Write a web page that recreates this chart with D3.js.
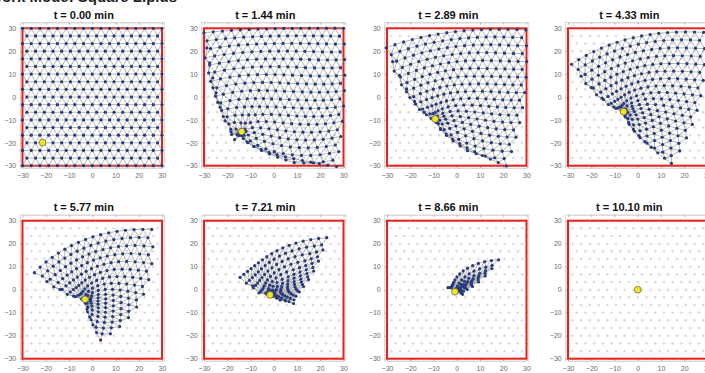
<!DOCTYPE html>
<html>
<head>
<meta charset="utf-8">
<script src="https://cdn.jsdelivr.net/npm/d3@7"></script>
<style>
  body { margin: 0; background: #fff; }
  svg { display: block; }
  text { font-family: "Liberation Sans", Arial, sans-serif; }
</style>
</head>
<body>
<svg id="chart" width="705" height="373"></svg>
<script>
// snapshot times (min)
const times = ['0.00', '1.44', '2.89', '4.33', '5.77', '7.21', '8.66', '10.10'];

// yellow hub position in each snapshot
const hubX = [-21.4, -13.8, -9.3, -6.1, -3.1, -1.6, -0.8, 0];
const hubY = [-19.9, -15.1, -9.6, -6.4, -4.2, -2.3, -0.9, 0];

// where the three far corners of the sheet ended up in each snapshot
const topLeftX = [-30, -30, -30.3, -28.5, -24.9, -14.5, -3.8, 0];
const topLeftY = [30, 28, 21.5, 14.3, 7.4, 5.4, 0.9, 0];
const topRightX = [30, 30, 29.7, 28.3, 25.6, 22.8, 18, 0];
const topRightY = [30, 30, 29.3, 28.2, 26.2, 22.6, 13, 0];
const bottomRightX = [30, 27, 21.3, 14.5, 3.6, 8.5, 2.5, 0];
const bottomRightY = [-30, -30.4, -30.1, -29, -21.9, -6, -2.0, 0];

// how much the sheet flares out (or pinches in) close to the hub
const bulge = [0, 0.4, 0.3, 0.2, 0.15, 0.3, -0.6, 0];

const axisTicks = [-30, -20, -10, 0, 10, 20, 30];

// triangular lattice of the sheet
const ROWS = 19, STEP = 3.75, HALF = 30;

const nodes = [];
const rowIndex = [];
for (let j = 0; j < ROWS; j++) {
  const y = HALF - j * (2 * HALF) / (ROWS - 1);
  const odd = j % 2 === 1;
  const n = odd ? 16 : 17;
  const ids = [];
  for (let i = 0; i < n; i++) {
    const x = (odd ? -HALF + STEP / 2 : -HALF) + i * STEP;
    ids.push(nodes.length);
    nodes.push({ x, y });
  }
  rowIndex.push(ids);
}
const links = [];
rowIndex.forEach((ids, j) => {
  for (let i = 0; i < ids.length - 1; i++) links.push([ids[i], ids[i + 1]]);
  if (j < ROWS - 1) {
    const next = rowIndex[j + 1];
    const odd = j % 2 === 1;
    ids.forEach((id, i) => {
      const a = odd ? i : i - 1, b = odd ? i + 1 : i;
      if (a >= 0 && a < next.length) links.push([id, next[a]]);
      if (b >= 0 && b < next.length) links.push([id, next[b]]);
    });
  }
});

const deg = Math.PI / 180;
const P0 = [hubX[0], hubY[0]];

// distance from the original hub to the box edge along a direction
function edgeDist(th) {
  const cx = Math.cos(th * deg), cy = Math.sin(th * deg);
  let best = Infinity;
  if (cx > 1e-9) best = Math.min(best, (HALF - P0[0]) / cx);
  if (cx < -1e-9) best = Math.min(best, (-HALF - P0[0]) / cx);
  if (cy > 1e-9) best = Math.min(best, (HALF - P0[1]) / cy);
  if (cy < -1e-9) best = Math.min(best, (-HALF - P0[1]) / cy);
  return best;
}

// fan map: polar coords about the original hub, squeezed toward the current hub
function makeMap(p) {
  const hx = hubX[p], hy = hubY[p];
  const pairs = [
    [30, -30, bottomRightX[p], bottomRightY[p]],
    [30, 30, topRightX[p], topRightY[p]],
    [-30, 30, topLeftX[p], topLeftY[p]]
  ];
  const k = pairs.map(([ox, oy, mx, my]) => {
    const th = Math.atan2(oy - P0[1], ox - P0[0]) / deg;
    const r = Math.hypot(ox - P0[0], oy - P0[1]);
    const R = Math.hypot(mx - hx, my - hy);
    const ph = Math.atan2(my - hy, mx - hx) / deg;
    return { th, r, ph, c: r - R };
  });
  const [br, tr, tl] = k;
  const sLow = (tr.ph - br.ph) / (tr.th - br.th);
  const sHigh = (tl.ph - tr.ph) / (tl.th - tr.th);
  const b = bulge[p];
  return function (pt) {
    const dx = pt.x - P0[0], dy = pt.y - P0[1];
    const r = Math.hypot(dx, dy);
    let th = Math.atan2(dy, dx) / deg;
    if (th < -135) th += 360;
    let ph = th <= tr.th ? tr.ph + (th - tr.th) * sLow : tr.ph + (th - tr.th) * sHigh;
    let c;
    if (th <= br.th) c = br.c;
    else if (th <= tr.th) c = br.c + (tr.c - br.c) * (th - br.th) / (tr.th - br.th);
    else if (th <= tl.th) c = tr.c + (tl.c - tr.c) * (th - tr.th) / (tl.th - tr.th);
    else c = tl.c;
    const rr = Math.max(0, r - c);
    const span = Math.max(1e-6, edgeDist(th) - c);
    const rho = Math.min(1, rr / span);
    ph = tr.ph + (ph - tr.ph) * (1 + b * (1 - rho));
    return [hx + rr * Math.cos(ph * deg), hy + rr * Math.sin(ph * deg)];
  };
}

const svg = d3.select('#chart');

svg.append('text')
  .attr('x', 177).attr('y', 2)
  .attr('text-anchor', 'end')
  .attr('font-size', 15).attr('font-weight', 'bold')
  .attr('fill', '#222')
  .text('Network Mode: Square Lipids');

const panelLeft = [22.5, 204, 387, 568];
const panelW = 139.5;
const rowTop = [28.3, 220.7];
const rowBottom = [165.7, 358.7];

times.forEach((t, p) => {
  const col = p % 4, row = Math.floor(p / 4);
  const x = d3.scaleLinear().domain([-30, 30]).range([panelLeft[col], panelLeft[col] + panelW]);
  const y = d3.scaleLinear().domain([-30, 30]).range([rowBottom[row], rowTop[row]]);
  const g = svg.append('g').attr('class', 'panel');
  const map = makeMap(p);
  const pos = nodes.map(map);

  // axes frame
  g.append('rect')
    .attr('x', x(-31)).attr('y', y(32.5))
    .attr('width', x(31) - x(-31)).attr('height', y(-31) - y(32.5))
    .attr('fill', '#fff').attr('stroke', '#c8c8c8').attr('stroke-width', 0.6);

  const xAxis = g.append('g')
    .attr('transform', `translate(0,${y(-31)})`)
    .call(d3.axisBottom(x).tickValues(axisTicks).tickSizeInner(-2).tickSizeOuter(0).tickPadding(5));
  const yAxis = g.append('g')
    .attr('transform', `translate(${x(-31)},0)`)
    .call(d3.axisLeft(y).tickValues(axisTicks).tickSizeInner(-2).tickSizeOuter(0).tickPadding(4));
  g.append('g')
    .attr('transform', `translate(0,${y(32.5)})`)
    .call(d3.axisTop(x).tickValues(axisTicks).tickSizeInner(-2).tickSizeOuter(0).tickFormat(''));
  [xAxis, yAxis].forEach(a => {
    a.selectAll('text').attr('fill', '#6a6a6a').attr('font-size', 7);
  });
  g.selectAll('.domain').attr('stroke', '#c8c8c8').attr('stroke-width', 0.6);
  g.selectAll('.tick line').attr('stroke', '#b0b0b0');

  // original lattice sites
  g.append('g').selectAll('circle')
    .data(nodes).enter().append('circle')
    .attr('cx', d => x(d.x)).attr('cy', d => y(d.y))
    .attr('r', 1.3).attr('fill', '#dcdcdc');

  // confining box
  g.append('rect')
    .attr('x', x(-30)).attr('y', y(30))
    .attr('width', x(30) - x(-30)).attr('height', y(-30) - y(30))
    .attr('fill', 'none').attr('stroke', '#e8211c').attr('stroke-width', 2);

  // springs
  g.append('g').selectAll('line')
    .data(links).enter().append('line')
    .attr('x1', d => x(pos[d[0]][0])).attr('y1', d => y(pos[d[0]][1]))
    .attr('x2', d => x(pos[d[1]][0])).attr('y2', d => y(pos[d[1]][1]))
    .attr('stroke', '#858585').attr('stroke-width', 0.6);

  // nodes
  g.append('g').selectAll('circle')
    .data(pos).enter().append('circle')
    .attr('cx', d => x(d[0])).attr('cy', d => y(d[1]))
    .attr('r', 1.6).attr('fill', '#263a7c');

  // hub
  g.append('circle')
    .attr('cx', x(hubX[p])).attr('cy', y(hubY[p]))
    .attr('r', 3.4).attr('fill', '#f3e51e')
    .attr('stroke', '#444').attr('stroke-width', 0.6);

  g.append('text')
    .attr('x', (x(-30) + x(30)) / 2 - 8.5)
    .attr('y', row === 0 ? 18.5 : 210.5)
    .attr('text-anchor', 'middle')
    .attr('font-size', 11).attr('font-weight', 'bold')
    .attr('fill', '#111')
    .text(`t = ${t} min`);
});
</script>
</body>
</html>
